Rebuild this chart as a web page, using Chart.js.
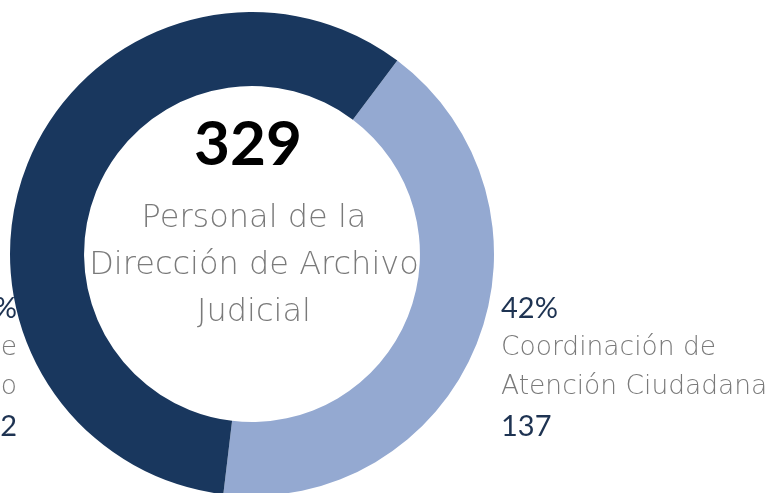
<!DOCTYPE html>
<html>
<head>
<meta charset="utf-8">
<script src="https://cdn.jsdelivr.net/npm/chart.js@4"></script>
<style>
  html, body { margin: 0; padding: 0; background: #fff; overflow: hidden; }
  #wrap { position: relative; width: 769px; height: 493px; overflow: hidden; }
</style>
</head>
<body>
<div id="wrap"><canvas id="myChart" width="769" height="500"></canvas></div>
<script>
// data
const categories = ['Coordinación de Atención Ciudadana', 'Coordinación de Archivo'];
const labelLines = [['Coordinación de', 'Atención Ciudadana'], ['Coordinación de', 'Archivo']];
const values = [137, 192];
const colors = ['#94a9d1', '#19375e'];
const centerTitle = ['Personal de la', 'Dirección de Archivo', 'Judicial'];

const total = values.reduce((a, b) => a + b, 0);
const numFont = "'Lato', sans-serif";
const textFont = "'DejaVu Sans', sans-serif";

// draws the total in the hole and the side labels
const textPlugin = {
    id: 'textPlugin',
    afterDraw(chart) {
        const ctx = chart.ctx;
        const arc = chart.getDatasetMeta(0).data[0];
        const cx = arc.x, cy = arc.y, r = arc.outerRadius;
        ctx.save();
        ctx.textAlign = 'center';
        ctx.textBaseline = 'middle';
        ctx.fillStyle = '#000';
        ctx.font = "bold 62px " + numFont;
        ctx.fillText(String(total), cx - 4, cy - 109);
        ctx.fillStyle = '#7a7a7a';
        ctx.font = "200 32px " + textFont;
        centerTitle.forEach((t, i) => ctx.fillText(t, cx + 2, cy - 35 + i * 47));

        // side labels
        values.forEach((v, i) => {
            const pct = Math.round(v / total * 100) + '%';
            const right = i === 0;
            const x = right ? cx + r + 7 : cx - r + 7;
            ctx.textAlign = right ? 'left' : 'right';
            ctx.fillStyle = '#1e3352';
            ctx.font = "29px " + numFont;
            ctx.fillText(pct, x, cy + 55);
            ctx.fillStyle = '#7a7a7a';
            ctx.font = "200 26.5px " + textFont;
            labelLines[i].forEach((t, j) => ctx.fillText(t, x, cy + 94 + j * 39));
            ctx.fillStyle = '#1e3352';
            ctx.font = "29px " + numFont;
            ctx.fillText(String(v), x, cy + 173);
        });
        ctx.restore();
    }
};

const config = {
    type: 'doughnut',
    data: {
        labels: categories,
        datasets: [{
            data: values,
            backgroundColor: colors,
            borderWidth: 0,
            hoverOffset: 0
        }]
    },
    options: {
        responsive: false,
        animation: false,
        rotation: 36.9,
        cutout: '69.4%',
        layout: { padding: { left: 10, right: 275, top: 12, bottom: 4 } },
        plugins: {
            legend: { display: false },
            tooltip: { enabled: false }
        }
    },
    plugins: [textPlugin]
};

new Chart(document.getElementById('myChart'), config);
</script>
</body>
</html>
